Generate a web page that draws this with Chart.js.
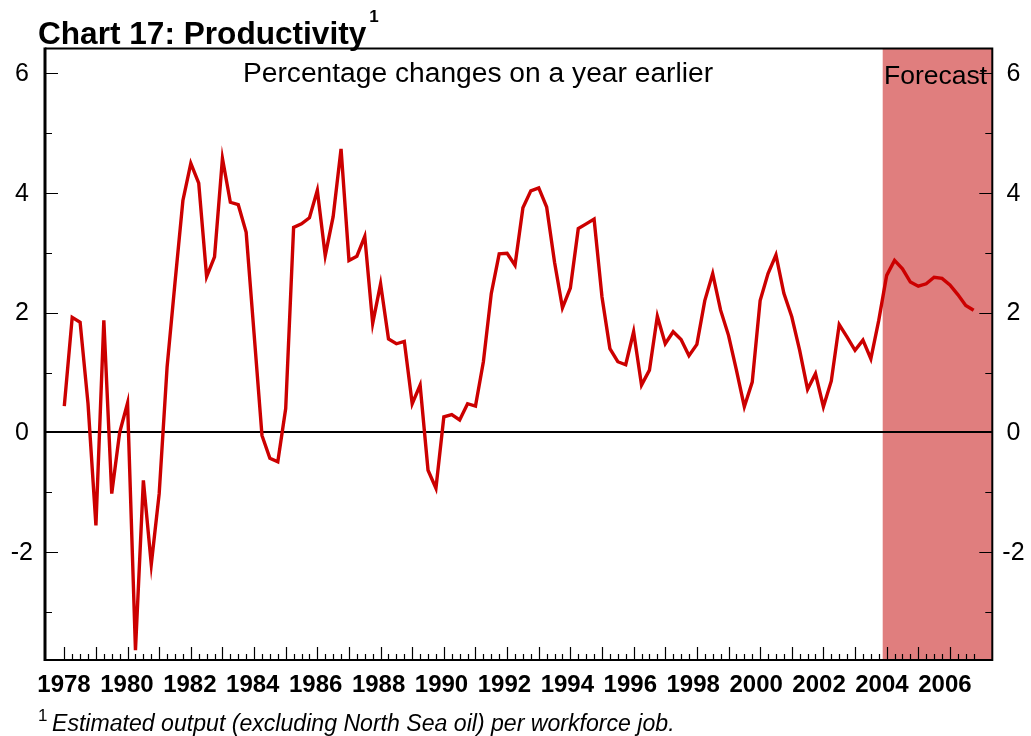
<!DOCTYPE html>
<html>
<head>
<meta charset="utf-8">
<style>
  html, body { margin: 0; padding: 0; background: #ffffff; }
  canvas { display: block; }
</style>
<script src="https://cdn.jsdelivr.net/npm/chart.js@4.4.1/dist/chart.umd.min.js"></script>
</head>
<body>
<canvas id="c" width="1031" height="736"></canvas>
<script>
// ---------- texts ----------
const TITLE = 'Chart 17: Productivity';
const TITLE_NOTE = '1';
const SUBTITLE = 'Percentage changes on a year earlier';
const FORECAST_LABEL = 'Forecast';
const FOOTNOTE_MARK = '1';
const FOOTNOTE = 'Estimated output (excluding North Sea oil) per workforce job.';

// ---------- categories (quarters) ----------
const YEARS = [1978,1979,1980,1981,1982,1983,1984,1985,1986,1987,1988,1989,1990,1991,1992,
               1993,1994,1995,1996,1997,1998,1999,2000,2001,2002,2003,2004,2005,2006];
const QUARTER_NAMES = ['Q1','Q2','Q3','Q4'];
const QUARTERS = YEARS.flatMap(y => QUARTER_NAMES.map(q => y + ' ' + q));

// ---------- series: productivity, % change on a year earlier ----------
const PRODUCTIVITY = [
  0.44, 1.92, 1.84, 0.48,   // 1978
 -1.55, 1.87,-1.02, 0.00,   // 1979
  0.49,-3.63,-0.80,-2.20,   // 1980
 -1.02, 1.09, 2.50, 3.87,   // 1981
  4.49, 4.16, 2.60, 2.93,   // 1982
  4.57, 3.84, 3.80, 3.34,   // 1983
  1.65,-0.05,-0.43,-0.49,   // 1984
  0.40, 3.42, 3.48, 3.58,   // 1985
  4.04, 2.95, 3.60, 4.73,   // 1986
  2.87, 2.94, 3.27, 1.82,   // 1987
  2.48, 1.56, 1.48, 1.52,   // 1988
  0.48, 0.79,-0.63,-0.93,   // 1989
  0.26, 0.30, 0.21, 0.48,   // 1990
  0.44, 1.18, 2.32, 2.98,   // 1991
  2.99, 2.79, 3.75, 4.03,   // 1992
  4.08, 3.76, 2.84, 2.08,   // 1993
  2.41, 3.40, 3.48, 3.56,   // 1994
  2.26, 1.40, 1.18, 1.13,   // 1995
  1.68, 0.79, 1.04, 1.94,   // 1996
  1.48, 1.68, 1.55, 1.28,   // 1997
  1.47, 2.20, 2.65, 2.04,   // 1998
  1.62, 1.04, 0.43, 0.84,   // 1999
  2.20, 2.65, 2.96, 2.32,   // 2000
  1.93, 1.37, 0.72, 0.98,   // 2001
  0.43, 0.86, 1.80, 1.59,   // 2002
  1.37, 1.54, 1.23, 1.87,   // 2003
  2.62, 2.87, 2.73, 2.51,   // 2004
  2.44, 2.48, 2.59, 2.57,   // 2005
  2.46, 2.30, 2.12, 2.04    // 2006
];

// ---------- tick labels ----------
const X_TICK_LABELS = [1978,1980,1982,1984,1986,1988,1990,1992,1994,1996,1998,2000,2002,2004,2006];
const Y_TICK_LABELS = [-2, 0, 2, 4, 6];
const Y_MINOR_TICKS = [-3,-2,-1,0,1,2,3,4,5,6];

// forecast period begins between 2003 Q4 and 2004 Q1
const FORECAST_START = 2003.875;

// ---------- axis ranges ----------
const X_MIN = 1977.39, X_MAX = 2007.34;        // data axis (years)
const XL_MIN = 1977.396, XL_MAX = 2007.507;    // label axis (years)
const Y_MIN = -3.795, Y_MAX = 6.405;

const FONT = "'Liberation Sans', Arial, Helvetica, sans-serif";

function quarterToYear(label) {
  const [y, q] = label.split(' ');
  return Number(y) + (Number(q.slice(1)) - 1) / 4;
}

const points = PRODUCTIVITY.map((v, i) => ({ x: quarterToYear(QUARTERS[i]), y: v }));

const shadePlugin = {
  id: 'forecastShade',
  beforeDraw(chart) {
    const { ctx, chartArea: a, scales } = chart;
    const px = scales.x.getPixelForValue(FORECAST_START);
    ctx.save();
    ctx.fillStyle = 'rgb(224,126,126)';
    ctx.fillRect(px, a.top, a.right - px, a.bottom - a.top);
    ctx.restore();
  }
};

const framePlugin = {
  id: 'frameTicksTexts',
  afterDraw(chart) {
    const { ctx, chartArea: a, scales } = chart;
    const xs = scales.x, ys = scales.y;
    ctx.save();
    ctx.strokeStyle = '#000';
    // inward ticks on x axis: years tall, quarters short
    ctx.lineWidth = 1.2;
    ctx.beginPath();
    QUARTERS.forEach(q => {
      const v = quarterToYear(q);
      const px = Math.round(xs.getPixelForValue(v)) + 0.5;
      const len = q.endsWith('Q1') ? 13 : 6;
      ctx.moveTo(px, a.bottom);
      ctx.lineTo(px, a.bottom - len);
    });
    // inward ticks on both y axes
    Y_MINOR_TICKS.forEach(v => {
      const py = Math.round(ys.getPixelForValue(v)) + 0.5;
      const len = (v % 2 === 0) ? 13 : 7;
      ctx.moveTo(a.left, py); ctx.lineTo(a.left + len, py);
      ctx.moveTo(a.right, py); ctx.lineTo(a.right - len, py);
    });
    ctx.stroke();
    // frame
    ctx.lineWidth = 2;
    ctx.beginPath();
    ctx.moveTo(a.left, a.top); ctx.lineTo(a.right, a.top);
    ctx.lineTo(a.right, a.bottom); ctx.lineTo(a.left, a.bottom);
    ctx.stroke();
    ctx.lineWidth = 3;
    ctx.beginPath();
    ctx.moveTo(a.left, a.top - 1); ctx.lineTo(a.left, a.bottom + 1);
    ctx.stroke();

    // texts
    ctx.fillStyle = '#000';
    ctx.textBaseline = 'alphabetic';
    ctx.textAlign = 'left';
    ctx.font = 'bold 31.6px ' + FONT;
    ctx.fillText(TITLE, 38, 44);
    const tw = ctx.measureText(TITLE).width;
    ctx.font = 'bold 17px ' + FONT;
    ctx.fillText(TITLE_NOTE, 38 + tw + 3, 22);

    ctx.font = '28.2px ' + FONT;
    ctx.textAlign = 'center';
    ctx.fillText(SUBTITLE, 478, 82);

    ctx.textAlign = 'left';
    ctx.font = '26.5px ' + FONT;
    ctx.fillText(FORECAST_LABEL, 884, 84);

    ctx.font = '17px ' + FONT;
    ctx.fillText(FOOTNOTE_MARK, 38, 721);
    ctx.font = 'italic 23.1px ' + FONT;
    ctx.fillText(FOOTNOTE, 52, 731);
    ctx.restore();
  }
};

const yTickFont = { family: FONT, size: 25 };

new Chart(document.getElementById('c'), {
  type: 'line',
  data: {
    datasets: [{
      label: 'Productivity',
      data: points,
      xAxisID: 'x',
      yAxisID: 'y',
      borderColor: '#cc0000',
      borderWidth: 3.4,
      pointRadius: 0,
      tension: 0,
      fill: false
    }]
  },
  options: {
    responsive: false,
    animation: false,
    devicePixelRatio: 1,
    layout: { padding: { top: 48.5, left: 0, right: 0, bottom: 0 } },
    plugins: { legend: { display: false }, tooltip: { enabled: false }, title: { display: false } },
    scales: {
      x: {
        type: 'linear', display: false, min: X_MIN, max: X_MAX
      },
      xl: {
        type: 'linear', position: 'bottom', min: XL_MIN, max: XL_MAX,
        afterBuildTicks: s => { s.ticks = X_TICK_LABELS.map(v => ({ value: v })); },
        afterFit: s => { s.height = 76; },
        grid: { display: false, drawTicks: false },
        border: { display: false },
        ticks: {
          callback: v => String(v),
          font: { family: FONT, size: 24, weight: 'bold' },
          color: '#000', padding: 11, maxRotation: 0, minRotation: 0, autoSkip: false
        }
      },
      y: {
        type: 'linear', position: 'left', min: Y_MIN, max: Y_MAX,
        afterBuildTicks: s => { s.ticks = Y_TICK_LABELS.map(v => ({ value: v })); },
        afterFit: s => { s.width = 45; },
        grid: {
          drawTicks: false, drawOnChartArea: true,
          color: c => (c.tick && c.tick.value === 0) ? '#000' : 'rgba(0,0,0,0)',
          lineWidth: c => (c.tick && c.tick.value === 0) ? 2 : 1
        },
        border: { display: false },
        ticks: { font: yTickFont, color: '#000', padding: 12, crossAlign: 'center', labelOffset: 1 }
      },
      y2: {
        type: 'linear', position: 'right', min: Y_MIN, max: Y_MAX,
        afterBuildTicks: s => { s.ticks = Y_TICK_LABELS.map(v => ({ value: v })); },
        afterFit: s => { s.width = 38.7; },
        grid: { display: false, drawTicks: false },
        border: { display: false },
        ticks: { font: yTickFont, color: '#000', padding: 10, crossAlign: 'center', labelOffset: 1 }
      }
    }
  },
  plugins: [shadePlugin, framePlugin]
});
</script>
</body>
</html>
